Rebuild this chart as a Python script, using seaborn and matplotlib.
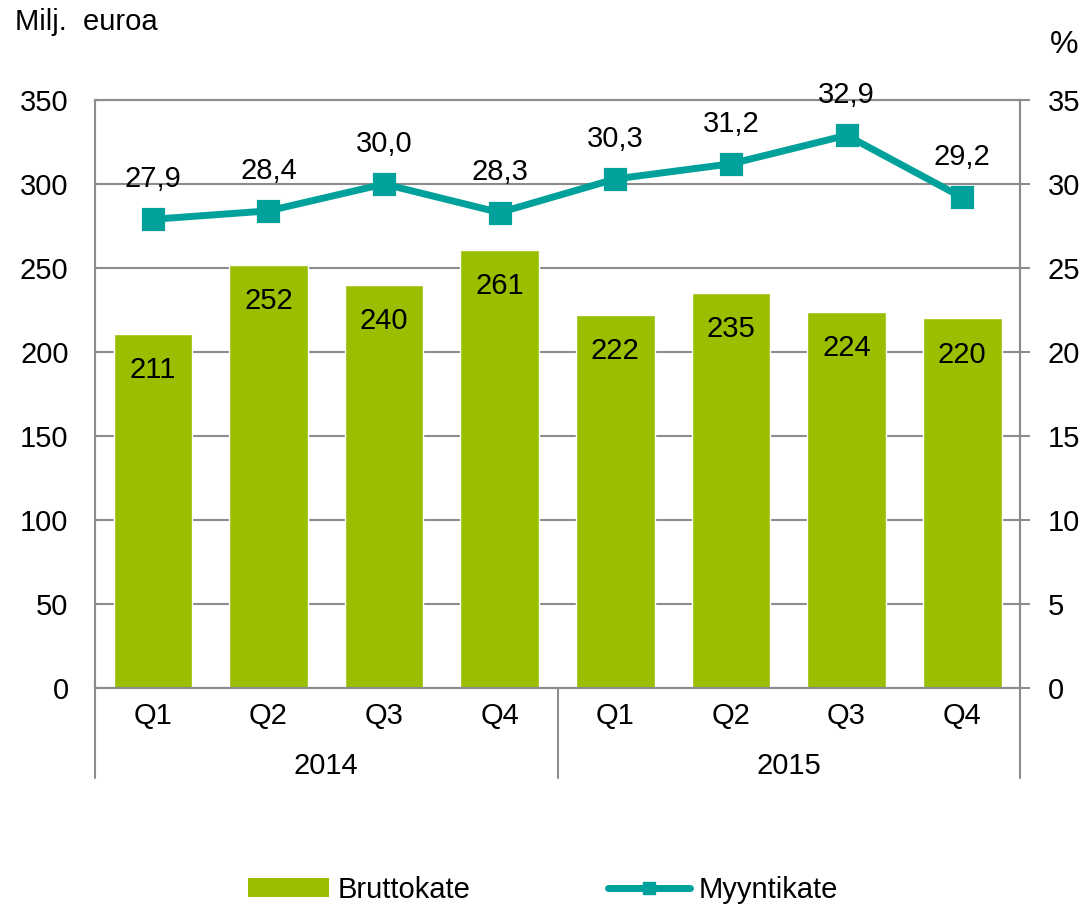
import pandas as pd
import matplotlib.pyplot as plt
import matplotlib.transforms as mtransforms
from matplotlib.patches import Patch
from matplotlib.lines import Line2D
import seaborn as sns

# data
years = ["2014", "2014", "2014", "2014", "2015", "2015", "2015", "2015"]
quarters = ["Q1", "Q2", "Q3", "Q4", "Q1", "Q2", "Q3", "Q4"]
bruttokate = [211, 252, 240, 261, 222, 235, 224, 220]      # Milj. euroa
myyntikate = [27.9, 28.4, 30.0, 28.3, 30.3, 31.2, 32.9, 29.2]  # %

GREEN = "#99BF00"
TEAL = "#00A19B"
GREY = "#8C8C8C"
FS = 21

sns.set_theme(style="white")
plt.rcParams["font.family"] = ["Liberation Sans", "DejaVu Sans"]
plt.rcParams["text.color"] = "black"
plt.rcParams["xtick.labelcolor"] = "black"
plt.rcParams["ytick.labelcolor"] = "black"

df = pd.DataFrame({
    "period": [f"{y} {q}" for y, q in zip(years, quarters)],
    "quarter": quarters,
    "year": years,
    "brutto": bruttokate,
    "pct": myyntikate,
})

fig = plt.figure(figsize=(10.92, 9.10), dpi=100)
ax = fig.add_axes([95 / 1092, 1 - 688 / 910, (1020 - 95) / 1092, (688 - 100) / 910])

sns.barplot(data=df, x="period", y="brutto", color=GREEN, saturation=1,
            width=0.68, ax=ax, zorder=2)
ax.set_ylim(0, 350)
ax.set_yticks(range(0, 351, 50))
ax.set_xlim(-0.5, len(df) - 0.5)
ax.yaxis.grid(True, color=GREY, linewidth=1.5, zorder=0)
ax.set_axisbelow(True)
ax.set_xlabel("")
ax.set_ylabel("")
ax.set_xticks(range(len(df)))
ax.set_xticklabels(df["quarter"], fontsize=FS)
ax.tick_params(axis="x", length=0, pad=10)
ax.tick_params(axis="y", length=0, pad=19, labelsize=FS)

for i, v in enumerate(df["brutto"]):
    ax.annotate(str(v), (i, v), xytext=(0, -26), textcoords="offset points",
                ha="center", va="center", fontsize=FS, color="black")

ax2 = ax.twinx()
sns.pointplot(data=df, x="period", y="pct", color=TEAL, markers="s",
              markersize=13, linewidth=5, ax=ax2, errorbar=None)
ax2.set_ylim(0, 35)
ax2.set_yticks(range(0, 36, 5))
ax2.set_xlim(-0.5, len(df) - 0.5)
ax2.set_ylabel("")
ax2.set_xlabel("")
ax2.tick_params(axis="y", length=7, width=1.5, color=GREY, pad=13, labelsize=FS)

for i, v in enumerate(df["pct"]):
    ax2.annotate(f"{v:.1f}".replace(".", ","), (i, v), xytext=(0, 29),
                 textcoords="offset points", ha="center", va="center",
                 fontsize=FS, color="black")

for a in (ax, ax2):
    for side in a.spines:
        a.spines[side].set_color(GREY)
        a.spines[side].set_linewidth(1.5)
    a.spines["top"].set_visible(True)

# category separators and year labels below the axis
trans = mtransforms.blended_transform_factory(ax.transData, ax.transAxes)
for xs in (-0.5, 3.5, 7.5):
    ax.plot([xs, xs], [0, -90 / 588], transform=trans, color=GREY,
            linewidth=1.5, clip_on=False)
for xc, yr in ((1.5, "2014"), (5.5, "2015")):
    ax.text(xc, -78 / 588, yr, transform=trans, ha="center", va="center",
            fontsize=FS)

fig.text(15 / 1092, 1 - 22 / 910, "Milj.  euroa", ha="left", va="center", fontsize=FS)
fig.text(1064 / 1092, 1 - 45 / 910, "%", ha="center", va="center", fontsize=FS + 2)

handles = [
    Patch(facecolor=GREEN, edgecolor="none"),
    Line2D([0], [0], color=TEAL, linewidth=5, marker="s", markersize=8,
           solid_capstyle="round"),
]
fig.legend(handles, ["Bruttokate", "Myyntikate"], loc="center",
           bbox_to_anchor=(0.497, 1 - 890 / 910), ncol=2, frameon=False,
           fontsize=FS, handlelength=2.8, handleheight=0.65, columnspacing=4.7,
           handletextpad=0.3)

fig.savefig("out.png", dpi=100)
